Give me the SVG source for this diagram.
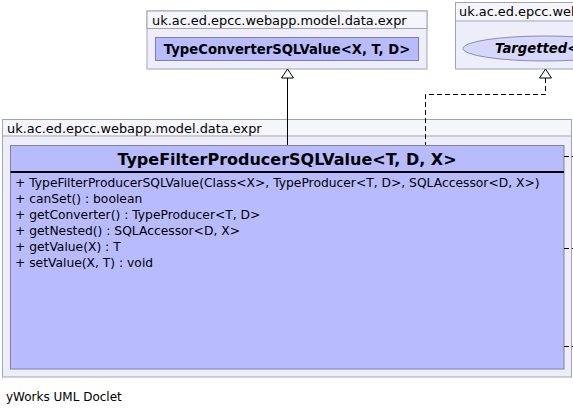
<svg xmlns="http://www.w3.org/2000/svg" width="573" height="415" viewBox="0 0 573 415">
<defs>
<style>
.pkg{fill:#eeeefa;stroke:#a3a3b3;stroke-width:1}
.pkghead{fill:#f5f5fc;stroke:#a3a3b3;stroke-width:1}
.cls{fill:#b9bbff;stroke:#8080a8;stroke-width:1}
.pt{font-family:"DejaVu Sans",sans-serif;font-size:12.9px;fill:#000}
.ct{font-family:"DejaVu Sans",sans-serif;font-size:13.2px;font-weight:bold;fill:#000}
.mt{font-family:"DejaVu Sans",sans-serif;font-size:12.3px;fill:#000}
.edge{fill:none;stroke:#000;stroke-width:1}
.dash{fill:none;stroke:#000;stroke-width:1;stroke-dasharray:5,3}
.tri{fill:#fff;stroke:#000;stroke-width:1}
</style>
</defs>
<rect width="573" height="415" fill="#fff"/>
<g id="pkg-typeconverter">
<rect class="pkg" x="147" y="11" width="280" height="58"/>
<rect class="pkghead" x="147" y="11" width="280" height="17.5"/>
<text class="pt" x="152" y="24.5">uk.ac.ed.epcc.webapp.model.data.expr</text>
<g id="TypeConverterSQLValue">
<rect class="cls" x="155.5" y="37.5" width="263" height="23"/>
<text class="ct" x="287" y="54" text-anchor="middle">TypeConverterSQLValue&lt;X, T, D&gt;</text>
</g>
</g>
<g id="pkg-targetted">
<rect class="pkg" x="455.5" y="2.5" width="130" height="66.5"/>
<rect class="pkghead" x="455.5" y="2.5" width="130" height="18.5"/>
<text class="pt" x="459" y="16">uk.ac.ed.epcc.web</text>
<g id="Targetted">
<ellipse cx="545" cy="48.5" rx="82" ry="12.5" fill="#d5d8fc" stroke="#8c8cae" stroke-width="1"/>
<text class="ct" x="495" y="53" font-style="italic">Targetted&lt;</text>
</g>
</g>
<g id="pkg-main">
<rect class="pkg" x="2.5" y="119.5" width="569" height="257.5"/>
<rect class="pkghead" x="2.5" y="119.5" width="569" height="16.5"/>
<text class="pt" x="7" y="132.5">uk.ac.ed.epcc.webapp.model.data.expr</text>
<g id="TypeFilterProducerSQLValue">
<rect class="cls" x="10.5" y="145.5" width="553.5" height="223.5"/>
<line x1="10.5" y1="172" x2="564" y2="172" stroke="#000" stroke-width="2"/>
<text x="287" y="165" text-anchor="middle" font-family="DejaVu Sans, sans-serif" font-size="16px" font-weight="bold">TypeFilterProducerSQLValue&lt;T, D, X&gt;</text>
<text class="mt" x="15" y="186.5">+ TypeFilterProducerSQLValue(Class&lt;X&gt;, TypeProducer&lt;T, D&gt;, SQLAccessor&lt;D, X&gt;)</text>
<text class="mt" x="15" y="202.5">+ canSet() : boolean</text>
<text class="mt" x="15" y="218.5">+ getConverter() : TypeProducer&lt;T, D&gt;</text>
<text class="mt" x="15" y="234.5">+ getNested() : SQLAccessor&lt;D, X&gt;</text>
<text class="mt" x="15" y="250.5">+ getValue(X) : T</text>
<text class="mt" x="15" y="266.5">+ setValue(X, T) : void</text>
</g>
</g>
<g id="connectors">
<line class="edge" x1="287.5" y1="78" x2="287.5" y2="145"/>
<polygon class="tri" points="287.5,69 281.5,78 293.5,78"/>
<polyline class="dash" points="545.5,78 545.5,94.5 425.5,94.5 425.5,145"/>
<polygon class="tri" points="545.5,69 539.5,78 551.5,78"/>
<line class="dash" x1="564" y1="156.5" x2="575" y2="156.5"/>
<line class="dash" x1="564" y1="248.5" x2="575" y2="248.5"/>
<line class="dash" x1="564" y1="346.5" x2="575" y2="346.5"/>
</g>
<text x="6" y="401" font-family="DejaVu Sans, sans-serif" font-size="12px" fill="#000">yWorks UML Doclet</text>
</svg>
